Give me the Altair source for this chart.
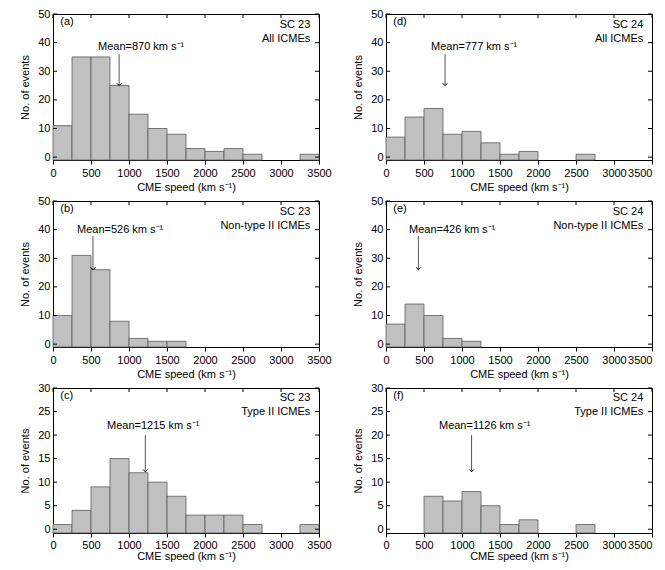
import altair as alt
import pandas as pd

# ---------------- data ----------------
bin_start = [0, 250, 500, 750, 1000, 1250, 1500, 1750, 2000, 2250, 2500, 2750, 3000, 3250]
bin_end = [250, 500, 750, 1000, 1250, 1500, 1750, 2000, 2250, 2500, 2750, 3000, 3250, 3500]

counts_a = [11, 35, 35, 25, 15, 10, 8, 3, 2, 3, 1, 0, 0, 1]   # SC 23 All ICMEs
counts_b = [10, 31, 26, 8, 2, 1, 1, 0, 0, 0, 0, 0, 0, 0]      # SC 23 Non-type II
counts_c = [1, 4, 9, 15, 12, 10, 7, 3, 3, 3, 1, 0, 0, 1]      # SC 23 Type II
counts_d = [7, 14, 17, 8, 9, 5, 1, 2, 0, 0, 1, 0, 0, 0]       # SC 24 All ICMEs
counts_e = [7, 14, 10, 2, 1, 0, 0, 0, 0, 0, 0, 0, 0, 0]       # SC 24 Non-type II
counts_f = [0, 0, 7, 6, 8, 5, 1, 2, 0, 0, 1, 0, 0, 0]         # SC 24 Type II

panel_letters = ["(a)", "(d)", "(b)", "(e)", "(c)", "(f)"]
cycles = ["SC 23", "SC 24", "SC 23", "SC 24", "SC 23", "SC 24"]
categories = ["All ICMEs", "All ICMEs", "Non-type II ICMEs", "Non-type II ICMEs",
              "Type II ICMEs", "Type II ICMEs"]
mean_speeds = [870, 777, 526, 426, 1215, 1126]
all_counts = [counts_a, counts_d, counts_b, counts_e, counts_c, counts_f]

# annotation placement (data units)
mean_text_x = [592, 592, 316, 303, 711, 697]
row_ymin = [-1, -1, -0.8]
row_ymax = [50, 50, 30]
row_yticks = [[0, 10, 20, 30, 40, 50], [0, 10, 20, 30, 40, 50], [0, 5, 10, 15, 20, 25, 30]]
row_mean_text_y = [38.6, 40, 22]
row_arrow_top = [36, 37.8, 20]
row_arrow_tip = [25, 26, 12.2]
row_letter_y = [47.2, 47.2, 28.3]
row_sc_y = [46.2, 46.2, 27.9]
row_cat_y = [41.3, 41.3, 25.0]
letter_x = 95
right_label_x = 3385

x_ticks = [0, 500, 1000, 1500, 2000, 2500, 3000, 3500]

W = 266
row_height = [146, 146, 145]
row_label_pad = [3, 3, 2]
row_title_pad = [3, 3, 0]
FONT = "Liberation Sans"
XTITLE = "CME speed (km s\u207b\u00b9)"
YTITLE = "No. of events"


def panel(i):
    row = i // 2
    col = i % 2
    H = row_height[row]
    ymin, ymax = row_ymin[row], row_ymax[row]
    yticks = row_yticks[row]
    xscale = alt.Scale(domain=[0, 3500], nice=False, zero=False)
    yscale = alt.Scale(domain=[ymin, ymax], nice=False, zero=False)
    xaxis_kw = dict(values=x_ticks, format="d", tickSize=4, labelPadding=row_label_pad[row],
                    titlePadding=row_title_pad[row], labelFlush=False, grid=False)
    if col == 1:
        xaxis_kw["labelAlign"] = {"condition": {"test": "datum.value === 3500", "value": "right"},
                                  "value": "center"}
    xaxis = alt.Axis(**xaxis_kw)
    yaxis = alt.Axis(values=yticks, format="d", tickSize=0, labelPadding=3, titlePadding=7,
                     grid=False)

    def X(f):
        return alt.X(f, type="quantitative", scale=xscale, axis=xaxis, title=XTITLE)

    def Y(f):
        return alt.Y(f, type="quantitative", scale=yscale, axis=yaxis, title=YTITLE)

    df = pd.DataFrame({"start": bin_start, "end": bin_end, "count": all_counts[i]})
    df = df[df["count"] > 0]

    bars = alt.Chart(df).mark_bar(fill="#c0c0c0", stroke="#5a5a5a", strokeWidth=0.8).encode(
        x=X("start"), x2="end", y=Y("count"), y2=alt.datum(ymin)
    )

    xt = pd.DataFrame({"v": x_ticks})
    yt = pd.DataFrame({"v": yticks})
    top_ticks = alt.Chart(xt).mark_rule(color="black", strokeWidth=1).encode(
        x=X("v"), y=alt.value(0), y2=alt.value(4))
    left_ticks = alt.Chart(yt).mark_rule(color="black", strokeWidth=1).encode(
        y=Y("v"), x=alt.value(0), x2=alt.value(4))
    right_ticks = alt.Chart(yt).mark_rule(color="black", strokeWidth=1).encode(
        y=Y("v"), x=alt.value(W - 4), x2=alt.value(W))

    ann = pd.DataFrame({
        "letter": [panel_letters[i]], "lx": [letter_x], "ly": [row_letter_y[row]],
        "sc": [cycles[i]], "cat": [categories[i]], "rx": [right_label_x],
        "scy": [row_sc_y[row]], "caty": [row_cat_y[row]],
        "mtext": [f"Mean={mean_speeds[i]} km s\u207b\u00b9"], "mx": [mean_text_x[i]],
        "my": [row_mean_text_y[row]], "mean": [mean_speeds[i]],
        "atop": [row_arrow_top[row]], "atip": [row_arrow_tip[row]],
    })
    base = alt.Chart(ann)
    letter = base.mark_text(align="left", baseline="middle", font=FONT, fontSize=11,
                            color="black").encode(x=X("lx"), y=Y("ly"), text="letter:N")
    sc = base.mark_text(align="right", baseline="middle", font=FONT, fontSize=11,
                        color="black").encode(x=X("rx"), y=Y("scy"), text="sc:N")
    cat = base.mark_text(align="right", baseline="middle", font=FONT, fontSize=11,
                         color="black").encode(x=X("rx"), y=Y("caty"), text="cat:N")
    mtext = base.mark_text(align="left", baseline="middle", font=FONT, fontSize=11,
                           color="black").encode(x=X("mx"), y=Y("my"), text="mtext:N")
    shaft = base.mark_rule(color="#555555", strokeWidth=1).encode(
        x=X("mean"), y=Y("atop"), y2="atip")
    head = base.mark_point(shape="M-1,-1L0,0L1,-1", filled=False, color="black",
                           strokeWidth=1, size=22, opacity=1).encode(x=X("mean"), y=Y("atip"))

    return alt.layer(bars, top_ticks, left_ticks, right_ticks, letter, sc, cat,
                     mtext, shaft, head).properties(width=W, height=H)


rows = []
for r in range(3):
    rows.append(alt.hconcat(panel(2 * r), panel(2 * r + 1), spacing=20))

chart = alt.vconcat(*rows, spacing=1).properties(
    autosize=alt.AutoSizeParams(type="none"),
    padding={"left": 45, "top": 6, "right": 604, "bottom": 548}
).configure_view(stroke="black", strokeWidth=1).configure_axis(
    domainColor="black", domainWidth=1, tickColor="black", labelColor="black",
    titleColor="black", labelFont=FONT, titleFont=FONT, labelFontSize=11,
    titleFontSize=11, titleFontWeight="normal"
)

chart.save("out.html", embed_options={"renderer": "svg", "actions": False})
